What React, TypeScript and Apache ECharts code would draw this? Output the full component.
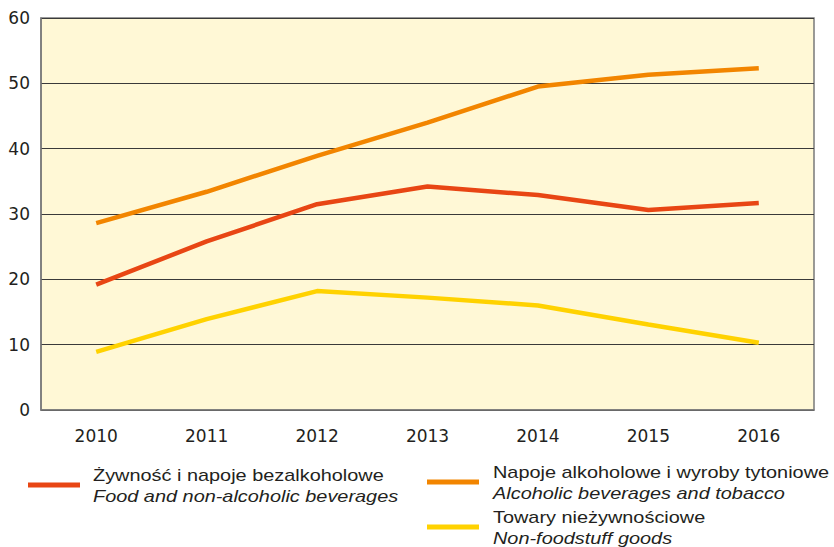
import React, { useEffect, useRef } from "react";
import * as echarts from "echarts";

const years = ["2010", "2011", "2012", "2013", "2014", "2015", "2016"];
const food = [19.2, 25.8, 31.5, 34.2, 32.9, 30.6, 31.7];
const alcohol = [28.6, 33.4, 38.9, 44.0, 49.5, 51.3, 52.3];
const nonFood = [8.9, 13.9, 18.2, 17.2, 16.0, 13.1, 10.3];
const seriesNamesPl = [
  "Żywność i napoje bezalkoholowe",
  "Napoje alkoholowe i wyroby tytoniowe",
  "Towary nieżywnościowe",
];
const seriesNamesEn = [
  "Food and non-alcoholic beverages",
  "Alcoholic beverages and tobacco",
  "Non-foodstuff goods",
];
const colors = ["#E84614", "#F28500", "#FFD200"];

export default function App() {
  const ref = useRef<HTMLDivElement>(null);
  useEffect(() => {
    if (!ref.current) return;
    const chart = echarts.init(ref.current, null, { renderer: "svg" });
    const font = "Liberation Sans, Arial, sans-serif";
    const axisFont = "DejaVu Sans, sans-serif";
    const legendPos = [
      { lx: 28, ly: 485, tx: 93, ty: 475 },
      { lx: 427, ly: 482, tx: 493, ty: 472 },
      { lx: 427, ly: 527, tx: 493, ty: 517 },
    ];
    const graphics: any[] = [];
    legendPos.forEach((p, i) => {
      graphics.push({
        type: "line",
        shape: { x1: p.lx, y1: p.ly, x2: p.lx + 52, y2: p.ly },
        style: { stroke: colors[i], lineWidth: 5 },
      });
      graphics.push({
        type: "text",
        x: p.tx,
        y: p.ty,
        scaleX: 1.17,
        style: {
          text: seriesNamesPl[i],
          fill: "#231f20",
          font: `17px ${font}`,
          textVerticalAlign: "middle",
        },
      });
      graphics.push({
        type: "text",
        x: p.tx,
        y: p.ty + 21,
        scaleX: 1.17,
        style: {
          text: seriesNamesEn[i],
          fill: "#231f20",
          font: `italic 17px ${font}`,
          textVerticalAlign: "middle",
        },
      });
    });
    const data = [food, alcohol, nonFood];
    chart.setOption({
      animation: false,
      grid: {
        left: 41,
        top: 18,
        width: 773,
        height: 392,
        show: true,
        backgroundColor: "#FFF8D6",
        borderColor: "#7a7a7a",
        borderWidth: 1.5,
      },
      xAxis: {
        type: "category",
        data: years,
        boundaryGap: true,
        axisLine: { show: true, lineStyle: { color: "#7a7a7a", width: 1.5 } },
        axisTick: { show: false },
        axisLabel: { color: "#231f20", fontSize: 17, fontFamily: axisFont, margin: 17 },
        splitLine: { show: false },
      },
      yAxis: {
        type: "value",
        min: 0,
        max: 60,
        interval: 10,
        axisLine: { show: true, lineStyle: { color: "#7a7a7a", width: 1.5 } },
        axisTick: { show: false },
        axisLabel: { color: "#231f20", fontSize: 17, fontFamily: axisFont, margin: 11 },
        splitLine: { show: true, lineStyle: { color: "#3a3a3a", width: 1.2 } },
      },
      series: data.map((d, i) => ({
        type: "line",
        name: seriesNamesPl[i],
        data: d,
        symbol: "none",
        lineStyle: { color: colors[i], width: 4.5 },
        z: 3 - i + 2,
      })),
      graphic: graphics,
    });
    return () => chart.dispose();
  }, []);
  return (
    <div
      ref={ref}
      style={{ position: "fixed", left: 0, top: 0, width: 834, height: 547, background: "#fff" }}
    />
  );
}
